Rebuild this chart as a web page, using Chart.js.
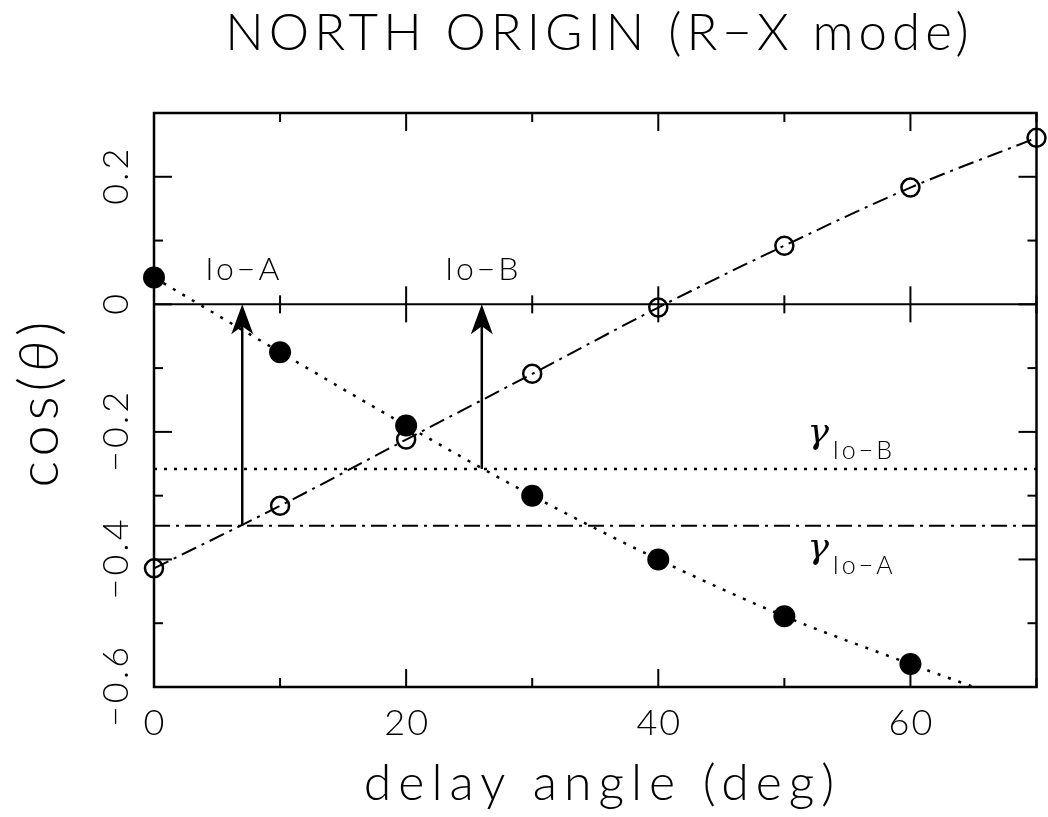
<!DOCTYPE html>
<html>
<head>
<meta charset="utf-8">
<script src="https://cdn.jsdelivr.net/npm/chart.js@4"></script>
<style>
body{margin:0;background:#fff;}
canvas{display:block;}
</style>
</head>
<body>
<canvas id="grafico" width="1048" height="817"></canvas>
<script>
// open circles (dash-dot curve)
const angles=[0,10,20,30,40,50,60,70];
const cosOpen=[-0.414,-0.316,-0.212,-0.109,-0.005,0.092,0.183,0.261];

// filled circles (dotted curve)
const anglesFilled=[0,10,20,30,40,50,60];
const cosFilled=[0.042,-0.075,-0.19,-0.30,-0.40,-0.489,-0.564];
// dotted curve runs on past the last point to the bottom of the frame
const fitFilledX=[0,10,20,30,40,50,60,65];
const fitFilledY=[0.042,-0.075,-0.19,-0.30,-0.40,-0.489,-0.564,-0.60];

const gammaA=-0.347;
const gammaB=-0.258;

const arrowAngles=[7,26];
const arrowBases=[gammaA,gammaB];
const arrowLabels=["Io−A","Io−B"];

const xTicks=[0,10,20,30,40,50,60,70];
const xMajor=[0,20,40,60];
const xTickLabels=["0","20","40","60"];
const yTicks=[-0.6,-0.5,-0.4,-0.3,-0.2,-0.1,0,0.1,0.2,0.3];
const yMajor=[-0.6,-0.4,-0.2,0,0.2];
const yTickLabels=["−0.6","−0.4","−0.2","0","0.2"];

const F="300 {s}px Lato, 'DejaVu Sans', sans-serif";
const font=s=>F.replace("{s}",s);

const pts=(xs,ys)=>xs.map((v,i)=>({x:v,y:ys[i]}));

function seg(ctx,x1,y1,x2,y2){
ctx.beginPath();
ctx.moveTo(x1,y1);
ctx.lineTo(x2,y2);
ctx.stroke();
}

// text centred on x, with letter spacing (trailing gap removed)
function texto(ctx,t,x,y,sp){
ctx.letterSpacing=sp+"px";
ctx.textAlign="center";
ctx.fillText(t,x+sp/2,y);
ctx.letterSpacing="0px";
}

const moldura={
id:"moldura",
beforeDatasetsDraw(chart){
const {ctx,chartArea:a,scales:{x,y}}=chart;
ctx.save();
ctx.strokeStyle="#000";
ctx.lineWidth=2.5;
ctx.strokeRect(a.left,a.top,a.right-a.left,a.bottom-a.top);
ctx.lineWidth=2;
const z=y.getPixelForValue(0);
xTicks.forEach(v=>{
const px=x.getPixelForValue(v);
const len=xMajor.includes(v)?18:9;
seg(ctx,px,a.bottom,px,a.bottom-len);
seg(ctx,px,a.top,px,a.top+len);
seg(ctx,px,z-len,px,z+len);
});
yTicks.forEach(v=>{
const py=y.getPixelForValue(v);
const len=yMajor.includes(v)?18:9;
seg(ctx,a.left,py,a.left+len,py);
seg(ctx,a.right,py,a.right-len,py);
});
ctx.restore();
},
afterDatasetsDraw(chart){
const {ctx,chartArea:a,scales:{x,y}}=chart;
ctx.save();
ctx.fillStyle="#000";
ctx.strokeStyle="#000";
ctx.textBaseline="alphabetic";
const z=y.getPixelForValue(0);

// arrows
ctx.lineWidth=2.5;
arrowAngles.forEach((ang,i)=>{
const px=x.getPixelForValue(ang);
const pb=y.getPixelForValue(arrowBases[i]);
seg(ctx,px,pb,px,z+20);
ctx.beginPath();
ctx.moveTo(px,z);
ctx.lineTo(px-11,z+30);
ctx.lineTo(px,z+22);
ctx.lineTo(px+11,z+30);
ctx.closePath();
ctx.fill();
ctx.font=font(32);
texto(ctx,arrowLabels[i],px,z-24,3);
});

// gamma labels
const gx=x.getPixelForValue(52);
const gB=y.getPixelForValue(gammaB);
const gA=y.getPixelForValue(gammaA);
[[gB,-26,-10,"Io−B"],[gA,32,48,"Io−A"]].forEach(g=>{
ctx.textAlign="left";
ctx.font="italic 36px 'DejaVu Serif', serif";
ctx.fillText("γ",gx-2,g[0]+g[1]);
ctx.font=font(25);
ctx.letterSpacing="3px";
ctx.fillText(g[3],gx+23,g[0]+g[2]);
ctx.letterSpacing="0px";
});

// x tick labels
ctx.font=font(36);
xMajor.forEach((v,i)=>{
texto(ctx,xTickLabels[i],x.getPixelForValue(v),735,2);
});

// y tick labels (rotated)
yMajor.forEach((v,i)=>{
ctx.save();
ctx.translate(128,y.getPixelForValue(v));
ctx.rotate(-Math.PI/2);
texto(ctx,yTickLabels[i],0,0,3);
ctx.restore();
});

// axis titles
ctx.font=font(50);
texto(ctx,"delay angle (deg)",599,800,7);

ctx.save();
ctx.translate(58,402);
ctx.rotate(-Math.PI/2);
const partes=[["cos(",font(56)],["θ","italic "+font(56)],[")",font(56)]];
ctx.letterSpacing="5px";
let w=0;
partes.forEach(p=>{ctx.font=p[1];w+=ctx.measureText(p[0]).width;});
let cx=-w/2;
ctx.textAlign="left";
partes.forEach(p=>{ctx.font=p[1];ctx.fillText(p[0],cx,0);cx+=ctx.measureText(p[0]).width;});
ctx.letterSpacing="0px";
ctx.restore();

ctx.font=font(51);
texto(ctx,"NORTH ORIGIN (R−X mode)",597,50,5);
ctx.restore();
}
};

new Chart(
document.getElementById("grafico"),
{
type:"line",
data:{
datasets:[
{
data:[{x:0,y:0},{x:70,y:0}],
borderColor:"#000",
borderWidth:2,
pointRadius:0
},
{
data:[{x:0,y:gammaB},{x:70,y:gammaB}],
borderColor:"#000",
borderWidth:2.5,
borderDash:[3,7],
pointRadius:0
},
{
data:[{x:0,y:gammaA},{x:70,y:gammaA}],
borderColor:"#000",
borderWidth:2,
borderDash:[16,6,3,6],
pointRadius:0
},
{
data:pts(angles,cosOpen),
borderColor:"#000",
borderWidth:2,
borderDash:[16,6,3,6],
cubicInterpolationMode:"monotone",
pointRadius:0
},
{
data:pts(fitFilledX,fitFilledY),
borderColor:"#000",
borderWidth:2.5,
borderDash:[3,8],
cubicInterpolationMode:"monotone",
pointRadius:0
},
{
data:pts(anglesFilled,cosFilled),
showLine:false,
pointRadius:11,
pointBackgroundColor:"#000",
pointBorderColor:"#000",
pointBorderWidth:0,
clip:false
},
{
data:pts(angles,cosOpen),
showLine:false,
pointRadius:9,
pointBackgroundColor:"rgba(0,0,0,0)",
pointBorderColor:"#000",
pointBorderWidth:2.5,
clip:false
}
]
},
options:{
responsive:false,
animation:false,
events:[],
layout:{
padding:{left:154,top:113,right:9,bottom:130}
},
plugins:{
legend:{display:false},
tooltip:{enabled:false}
},
scales:{
x:{type:"linear",min:0,max:70,display:false},
y:{type:"linear",min:-0.6,max:0.3,display:false}
}
},
plugins:[moldura]
}
);
</script>
</body>
</html>
